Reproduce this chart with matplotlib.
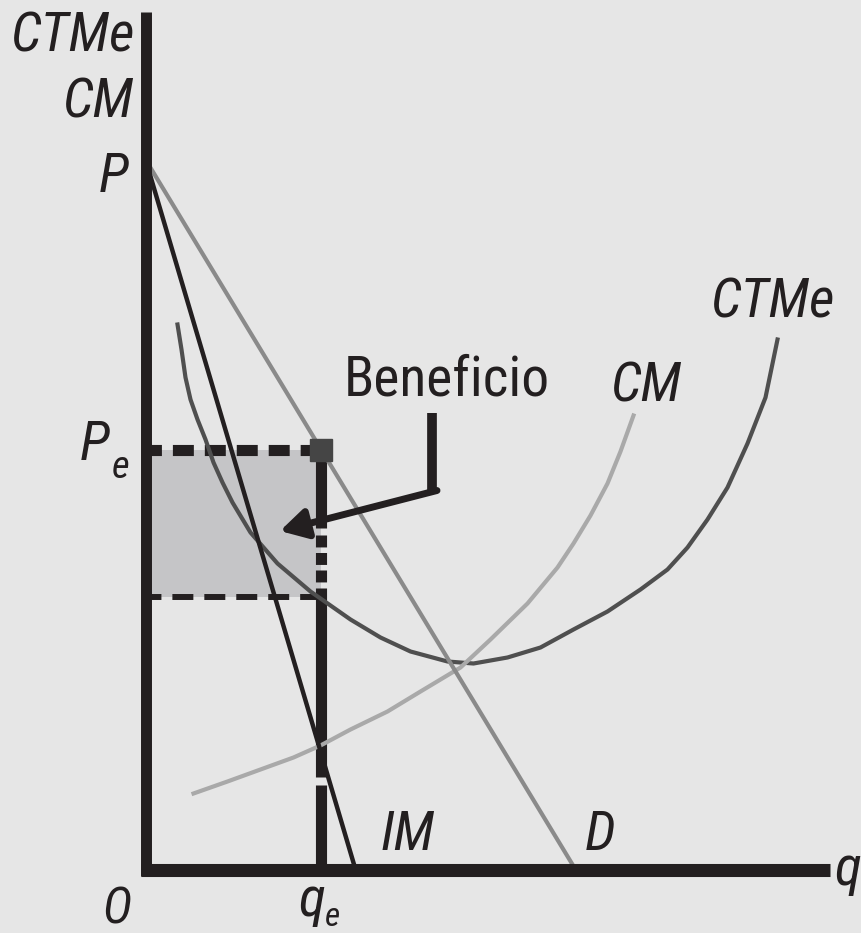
import matplotlib
matplotlib.use('Agg')
import matplotlib.pyplot as plt
from matplotlib import font_manager

# ---------------- data (economic units) ----------------
P_max = 71.0          # price P where demand meets the vertical axis
q_D = 43.0            # demand D reaches the q axis
q_IM = 21.0           # marginal revenue IM reaches the q axis
q_e = 17.5            # equilibrium quantity
P_e = 42.0            # equilibrium price
ctme_at_qe = 27.3     # average total cost at q_e

ctme_q = [3.2, 3.6, 4.0, 4.5, 5.2, 6.0, 6.8, 7.7, 8.7, 10.5, 13.2, 16.5, 20.5, 23.5,
          26.5, 30.2, 32.8, 36.2, 39.5, 42.8, 46.2, 49.5, 52.2, 54.2, 56.2, 58.2,
          60.2, 62.0, 63.2]
ctme_c = [54.5, 52.0, 49.2, 47.0, 45.0, 43.0, 40.7, 38.7, 36.7, 33.7, 30.6, 27.8, 25.0, 23.2,
          21.8, 20.8, 20.6, 21.2, 22.2, 24.0, 25.8, 28.0, 30.0, 32.2, 35.0, 38.2,
          42.6, 47.2, 53.0]

cm_q = [4.8, 8.2, 11.5, 14.8, 17.5, 20.5, 24.2, 27.5, 31.5, 34.5, 38.2, 41.2, 42.8,
        44.5, 46.2, 47.5, 48.8]
cm_c = [7.6, 8.8, 10.0, 11.2, 12.4, 14.0, 15.8, 17.8, 20.2, 23.0, 26.6, 30.2, 32.6,
        35.4, 38.6, 41.8, 45.4]

q_axis_end = 68.45
p_axis_end = 85.75

# ---------------- style ----------------
BG = '#e6e6e6'
BLACK = '#231f20'
plt.rcParams['lines.scale_dashes'] = False

# pick a narrow sans if one is installed
names = {f.name for f in font_manager.fontManager.ttflist}
narrow = [n for n in ['Liberation Sans Narrow', 'Roboto Condensed', 'DejaVu Sans Condensed',
                      'Open Sans Condensed', 'Noto Sans Condensed'] if n in names]
FONT = narrow + ['DejaVu Sans']
STRETCH = 'condensed'

fig = plt.figure(figsize=(8.61, 9.33), dpi=100, facecolor=BG)
ax = fig.add_axes([0, 0, 1, 1])
ax.set_facecolor(BG)
ax.axis('off')
ax.set_xlim(-14.55, 71.55)
ax.set_ylim(-6.35, 86.95)

# profit rectangle
ax.fill_between([0, q_e], ctme_at_qe, P_e, color='#c5c5c7', lw=0, zorder=1)

# dashed horizontal lines
ax.plot([0, q_e], [P_e, P_e], color=BLACK, lw=8, ls=(4, (15.1, 7.9)),
        solid_capstyle='butt', dash_capstyle='butt', zorder=2)
ax.plot([0, q_e], [ctme_at_qe, ctme_at_qe], color=BLACK, lw=4.3, ls=(4, (15.1, 7.9)),
        dash_capstyle='butt', zorder=2)

# vertical line at q_e
ax.plot([q_e, q_e], [P_e, 34.15], color=BLACK, lw=8, solid_capstyle='butt', zorder=2)
ax.plot([q_e, q_e], [33.45, 28.75], color=BLACK, lw=8, ls=(0, (8.6, 4.0)),
        dash_capstyle='butt', zorder=2)
ax.plot([q_e, q_e], [28.15, 9.25], color=BLACK, lw=8, solid_capstyle='butt', zorder=2)
ax.plot([q_e, q_e], [8.45, 0], color=BLACK, lw=8, solid_capstyle='butt', zorder=2)

# curves
ax.plot(ctme_q, ctme_c, color='#4f4f4f', lw=3.0, solid_joinstyle='round', zorder=3)
ax.plot(cm_q, cm_c, color='#a9a9a9', lw=3.0, solid_joinstyle='round', zorder=3)
ax.plot([0, q_D], [P_max, 0], color='#8a8a8a', lw=3.0, zorder=3)
ax.plot([0, q_IM], [P_max, 0], color=BLACK, lw=3.2, zorder=4)

# equilibrium marker
ax.plot([q_e], [P_e], marker='s', ms=16, color='#454545', mec='#454545', zorder=6)

# axes
ax.plot([-0.45, q_axis_end], [0, 0], color=BLACK, lw=9.4, solid_capstyle='butt', zorder=7)
ax.plot([0, 0], [-0.65, p_axis_end], color=BLACK, lw=7.9, solid_capstyle='butt', zorder=7)

# arrow for "Beneficio"
ax.plot([28.65, 28.65], [45.65, 37.6], color=BLACK, lw=7, solid_capstyle='butt', zorder=5)
ax.annotate('', xy=(13.45, 33.85), xytext=(29.15, 37.9),
            arrowprops=dict(arrowstyle='-|>,head_length=0.8,head_width=0.45',
                            lw=5, color=BLACK, mutation_scale=20,
                            shrinkA=0, shrinkB=0), zorder=5)

# labels
def lab(x, y, s, size=40, italic=True, ha='center'):
    ax.text(x, y, s, fontsize=size, family=FONT, stretch=STRETCH,
            style='italic' if italic else 'normal',
            color=BLACK, ha=ha, va='baseline', zorder=8)

lab(-7.35, 81.75, 'CTMe')
lab(-4.75, 75.15, 'CM')
lab(-3.15, 67.75, 'P')
lab(-5.05, 40.95, 'P')
lab(-2.45, 39.15, 'e', size=28)
lab(30.15, 47.45, 'Beneficio', italic=False)
lab(50.05, 46.75, 'CM')
lab(62.65, 55.25, 'CTMe')
lab(26.25, 1.95, 'IM')
lab(45.45, 1.95, 'D')
lab(-2.85, -5.35, 'O', size=36)
lab(16.65, -4.65, 'q')
lab(18.75, -5.7, 'e', size=24)
lab(70.25, -1.55, 'q')

fig.savefig('out.png', dpi=100, facecolor=BG)
